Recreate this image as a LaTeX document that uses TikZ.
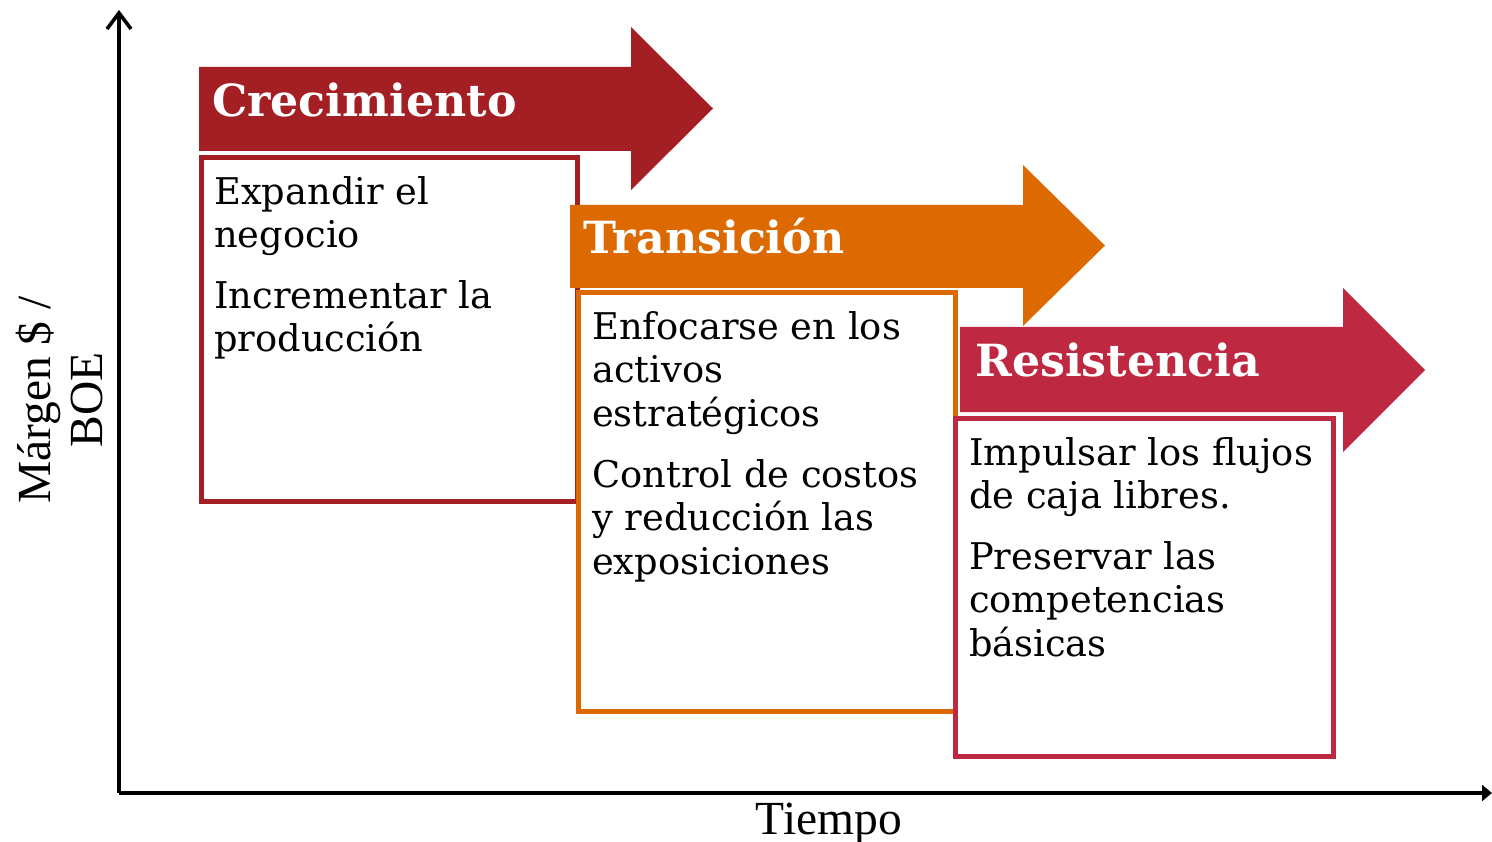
\documentclass[tikz,border=0pt]{standalone}
\usepackage{fontspec}
\setmainfont{DejaVu Serif}
\newfontfamily\axisfont{Liberation Serif}
\usetikzlibrary{arrows.meta}
\definecolor{cred}{HTML}{A31F24}
\definecolor{corange}{HTML}{DD6A00}
\definecolor{ccrimson}{HTML}{BE2841}
\tikzset{
  band/.style={fill=#1, draw=none},
  stagebox/.style={draw=#1, line width=5pt, fill=white},
  titletext/.style={anchor=base west, inner sep=0pt, text=white, font=\fontsize{44.3}{52}\selectfont\bfseries},
  boxtext/.style={anchor=base west, inner sep=0pt, align=left, font=\fontsize{36.8}{43.5}\selectfont},
  axis/.style={line width=3.6pt},
  axislabel/.style={font=\axisfont\fontsize{47.5}{52}\selectfont, inner sep=0pt}
}
\begin{document}
\begin{tikzpicture}[x=1pt,y=-1pt]
\useasboundingbox (0,0) rectangle (1492,842);
% axes
\coordinate (origin) at (119,793);
\coordinate (ytop) at (119,10);
\coordinate (xend) at (1492,793);
\draw[axis, -{Straight Barb[length=16pt,width=24pt,line width=3.6pt]}] (origin) -- (ytop);
\draw[axis, -{Triangle[length=10pt,width=16pt]}] (origin) -- (xend);
\node[axislabel, anchor=base] (tiempo) at (829,834) {Tiempo};
\node[axislabel, rotate=90, align=center] (margen) at (60,400) {Márgen \$ /\\BOE};
% Crecimiento
\path[band=cred] (199,67) -- (631,67) -- (631,27) -- (713,108.5) -- (631,190) -- (631,151) -- (199,151) -- cycle;
\node[titletext] (t1) at (212,117) {Crecimiento};
\draw[stagebox=cred] (201,157.5) rectangle (577.5,501.5);
\node[boxtext] (b1a) at (214,248) {Expandir el\\negocio};
\node[boxtext] (b1b) at (214,352) {Incrementar la\\producción};
% Transicion box
\draw[stagebox=corange] (578,292.5) rectangle (955,711);
\node[boxtext] (b2a) at (592,426) {Enfocarse en los\\activos\\estratégicos};
\node[boxtext] (b2b) at (592,574) {Control de costos\\y reducción las\\exposiciones};
% Resistencia box
\draw[stagebox=ccrimson] (955,418) rectangle (1333,756);
\node[boxtext] (b3a) at (969,508.5) {Impulsar los flujos\\de caja libres.};
\node[boxtext] (b3b) at (969,656) {Preservar las\\competencias\\básicas};
% Transicion arrow
\path[band=corange] (570,205) -- (1023,205) -- (1023,165) -- (1105,245.5) -- (1023,326) -- (1023,288) -- (570,288) -- cycle;
\node[titletext] (t2) at (583,254) {Transición};
% Resistencia arrow
\path[band=ccrimson] (960,327) -- (1343,327) -- (1343,288) -- (1425,370) -- (1343,452) -- (1343,412) -- (960,412) -- cycle;
\node[titletext] (t3) at (975,377) {Resistencia};
\end{tikzpicture}
\end{document}
